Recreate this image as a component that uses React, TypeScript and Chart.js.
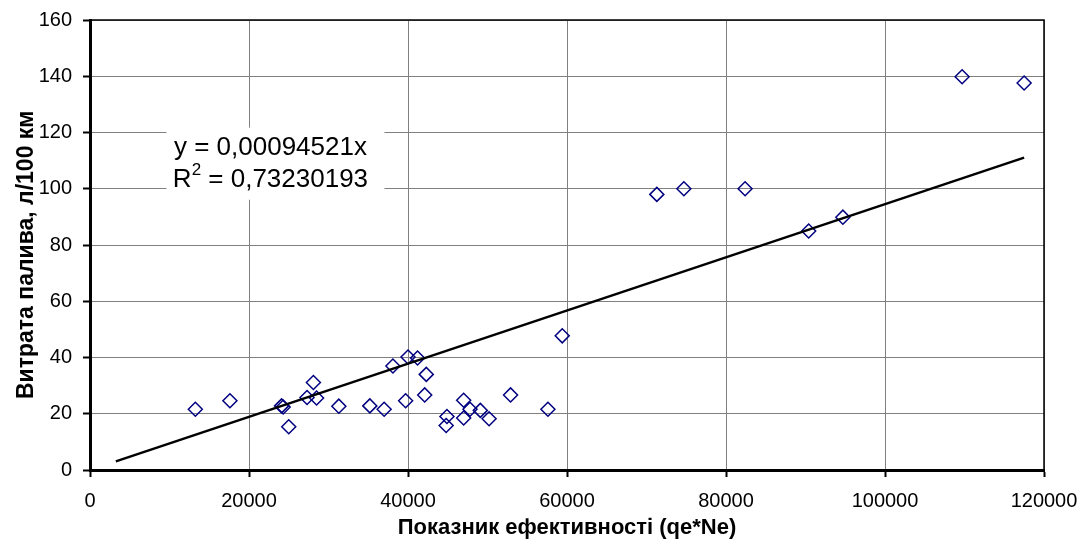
import { useEffect, useRef } from 'react';
import { Chart, registerables } from 'chart.js';

Chart.register(...registerables);

// Data
const xValues = [
  13250, 17600, 24100, 24300, 25000, 27300, 28100, 28500, 31300, 35200, 37000,
  38100, 39700, 40000, 41200, 42300, 42100, 44900, 44800, 47000, 47000, 47800,
  49100, 50200, 52900, 57600, 59400, 71300, 74700, 82400, 90400, 94700, 109700,
  117500,
];
const yValues = [
  21.6, 24.6, 22.8, 22.4, 15.4, 25.8, 31.1, 25.6, 22.7, 22.8, 21.6, 37.0, 24.6,
  40.2, 39.8, 34.0, 26.7, 19.0, 15.8, 24.8, 18.5, 21.6, 21.2, 18.2, 26.7, 21.6,
  47.7, 98.0, 100, 100, 85.0, 89.9, 139.8, 137.6,
];

// Linear trend through origin (from the reference equation)
const trendSlope = 0.00094521;
const trendXRange = [3250, 117500];

const xTicks = [0, 20000, 40000, 60000, 80000, 100000, 120000];
const yTicks = [0, 20, 40, 60, 80, 100, 120, 140, 160];

const equationLine = 'y = 0,00094521x';
const rSquaredBase = 'R';
const rSquaredSup = '2';
const rSquaredRest = ' = 0,73230193';
const xTitle = 'Показник ефективності (qe*Ne)';
const yTitle = 'Витрата палива, л/100 км';

// Annotation anchor (data coordinates)
const labelAnchorX = 22700;
const labelLine1Y = 114.6;
const labelLine2Y = 103.2;
const yTitleCenterValue = 76.5;

const FONT = "Arial, 'Liberation Sans', sans-serif";

const annotationPlugin = {
  id: 'equationLabel',
  beforeDatasetsDraw(chart: any) {
    const { ctx, scales } = chart;
    const cx = scales.x.getPixelForValue(labelAnchorX);
    const y1 = scales.y.getPixelForValue(labelLine1Y);
    const y2 = scales.y.getPixelForValue(labelLine2Y);
    ctx.save();
    ctx.fillStyle = '#ffffff';
    ctx.fillRect(cx - 104, y1 - 20, 218, y2 - y1 + 40);
    ctx.fillStyle = '#000000';
    ctx.textBaseline = 'middle';
    ctx.font = `26px ${FONT}`;
    ctx.textAlign = 'center';
    ctx.fillText(equationLine, cx, y1);
    ctx.font = `26px ${FONT}`;
    const wR = ctx.measureText(rSquaredBase).width;
    const wRest = ctx.measureText(rSquaredRest).width;
    ctx.font = `17px ${FONT}`;
    const wSup = ctx.measureText(rSquaredSup).width;
    const total = wR + wSup + wRest;
    let x = cx - total / 2;
    ctx.textAlign = 'left';
    ctx.font = `26px ${FONT}`;
    ctx.fillText(rSquaredBase, x, y2);
    x += wR;
    ctx.font = `17px ${FONT}`;
    ctx.fillText(rSquaredSup, x, y2 - 9);
    x += wSup;
    ctx.font = `26px ${FONT}`;
    ctx.fillText(rSquaredRest, x, y2);
    ctx.restore();
  },
  afterDraw(chart: any) {
    const { ctx, scales, chartArea } = chart;
    ctx.save();
    // plot-area top/right frame
    ctx.strokeStyle = '#000000';
    ctx.lineWidth = 1.5;
    ctx.beginPath();
    ctx.moveTo(chartArea.left, chartArea.top);
    ctx.lineTo(chartArea.right, chartArea.top);
    ctx.lineTo(chartArea.right, chartArea.bottom);
    ctx.stroke();
    // y-axis title
    const cy = scales.y.getPixelForValue(yTitleCenterValue);
    ctx.translate(27, cy);
    ctx.rotate(-Math.PI / 2);
    ctx.fillStyle = '#000000';
    ctx.font = `bold 23px ${FONT}`;
    ctx.textAlign = 'center';
    ctx.textBaseline = 'middle';
    ctx.fillText(yTitle, 0, 0);
    ctx.restore();
  },
};

export default function App() {
  const canvasRef = useRef<HTMLCanvasElement | null>(null);

  useEffect(() => {
    document.body.style.margin = '0';
    const canvas = canvasRef.current;
    if (!canvas) return;

    const points = xValues.map((x, i) => ({ x, y: yValues[i] }));
    const trend = trendXRange.map((x) => ({ x, y: trendSlope * x }));

    const chart = new Chart(canvas, {
      type: 'scatter',
      data: {
        datasets: [
          {
            type: 'line',
            data: trend,
            borderColor: '#000000',
            borderWidth: 2.5,
            pointRadius: 0,
            fill: false,
          } as any,
          {
            data: points,
            pointStyle: 'rectRot',
            pointRadius: 7,
            pointBorderColor: '#000080',
            pointBackgroundColor: 'rgba(0,0,0,0)',
            pointBorderWidth: 1.5,
            borderColor: '#000080',
            backgroundColor: 'rgba(0,0,0,0)',
          } as any,
        ],
      },
      options: {
        responsive: false,
        animation: false,
        layout: { padding: { top: 20, right: 39, left: 0, bottom: 0 } },
        plugins: {
          legend: { display: false },
          tooltip: { enabled: false },
        },
        scales: {
          x: {
            type: 'linear',
            min: 0,
            max: 120000,
            afterBuildTicks: (s: any) => {
              s.ticks = xTicks.map((v) => ({ value: v }));
            },
            afterFit: (s: any) => {
              s.height = 72;
              s.paddingLeft = 0;
              s.paddingRight = 0;
            },
            ticks: {
              color: '#000000',
              font: { family: FONT, size: 20 },
              padding: 12,
              maxRotation: 0,
              autoSkip: false,
              callback: (v: any) => String(v),
            },
            grid: {
              color: '#808080',
              lineWidth: 1,
              tickLength: 7,
              tickColor: '#000000',
              tickWidth: 2,
            },
            border: { display: true, color: '#000000', width: 3 },
            title: {
              display: true,
              text: xTitle,
              color: '#000000',
              font: { family: FONT, size: 22, weight: 'bold' },
              padding: { top: 0, bottom: 1 },
            },
          },
          y: {
            type: 'linear',
            min: 0,
            max: 160,
            afterBuildTicks: (s: any) => {
              s.ticks = yTicks.map((v) => ({ value: v }));
            },
            afterFit: (s: any) => {
              s.width = 90;
              s.paddingTop = 0;
              s.paddingBottom = 0;
            },
            ticks: {
              color: '#000000',
              font: { family: FONT, size: 20 },
              padding: 11,
              autoSkip: false,
            },
            grid: {
              color: '#808080',
              lineWidth: 1,
              tickLength: 7,
              tickColor: '#000000',
              tickWidth: 2,
            },
            border: { display: true, color: '#000000', width: 3 },
            title: { display: false },
          },
        },
      },
      plugins: [annotationPlugin],
    });

    return () => chart.destroy();
  }, []);

  return (
    <canvas
      ref={canvasRef}
      width={1083}
      height={542}
      style={{ display: 'block', width: 1083, height: 542 }}
    />
  );
}
